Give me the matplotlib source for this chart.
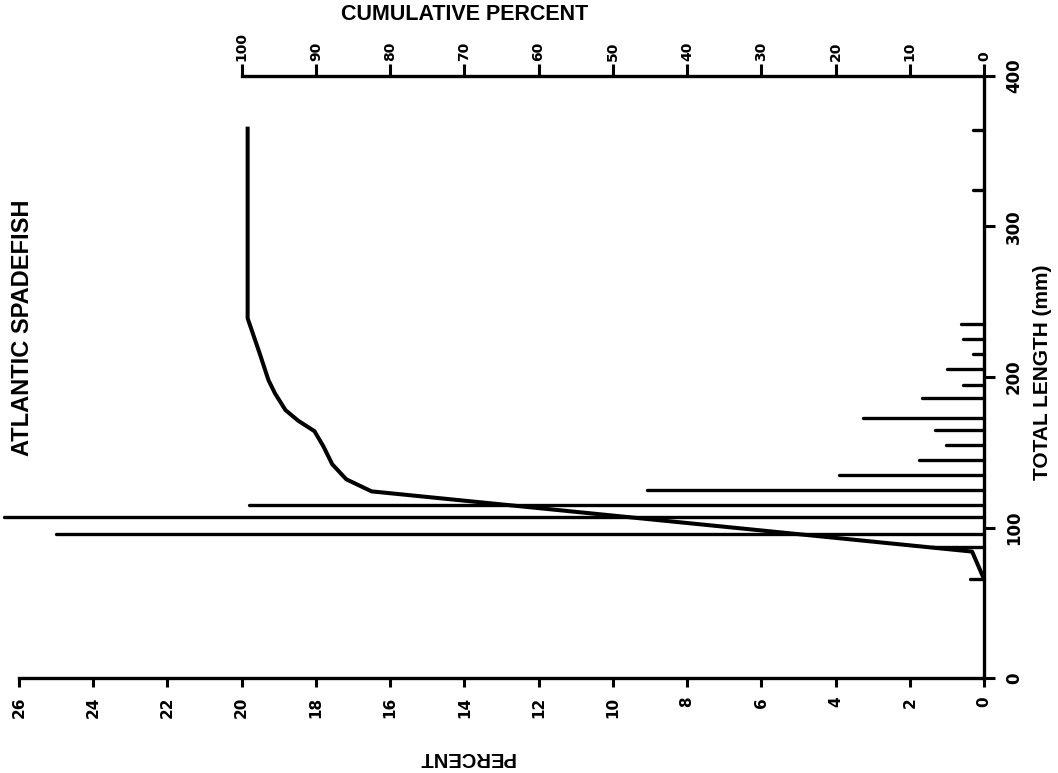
import matplotlib
matplotlib.use("Agg")
import matplotlib.pyplot as plt

# Length-frequency data (total length in mm, percent of catch)
length_mm = [66, 87, 96, 107, 115, 125, 135, 145, 155, 165, 173, 186, 195, 205, 215, 225, 235, 324, 364]
percent = [0.38, 1.41, 25.0, 26.4, 19.8, 9.07, 3.9, 1.75, 1.03, 1.32, 3.25, 1.68, 0.56, 0.99, 0.30, 0.56, 0.62, 0.30, 0.30]

# Cumulative percent curve
cum_length = [68, 84, 124, 132, 142, 154, 164, 171, 178, 189, 198, 216, 239, 365]
cum_percent = [0.2, 1.6, 82.5, 85.9, 87.8, 89.0, 90.2, 92.4, 94.1, 95.5, 96.4, 97.6, 99.2, 99.2]

length_ticks = [0, 100, 200, 300, 400]
percent_ticks = [0, 2, 4, 6, 8, 10, 12, 14, 16, 18, 20, 22, 24, 26]
cum_ticks = [0, 10, 20, 30, 40, 50, 60, 70, 80, 90, 100]

W, H = 1058, 773
fig = plt.figure(figsize=(W / 100, H / 100), dpi=100)
ax = fig.add_axes([19 / W, 95 / H, 965 / W, 602 / H])

# bars drawn as horizontal lines from the right-hand axis
ax.hlines(length_mm, 0, percent, colors="black", linewidth=2.4, capstyle="round", clip_on=False)

ax.set_xlim(26, 0)
ax.set_ylim(0, 400)
ax.spines["left"].set_visible(False)
ax.spines["top"].set_visible(False)
ax.spines["bottom"].set_bounds(0, 26)
ax.spines["bottom"].set_linewidth(2.4)
ax.spines["right"].set_linewidth(2.4)

ax.set_xticks(percent_ticks)
ax.set_xticklabels([str(t) for t in percent_ticks], rotation=90,
                   fontsize=11, fontweight="bold", family="DejaVu Sans")
ax.tick_params(axis="x", direction="out", length=6.5, width=2.2, pad=7)

ax.yaxis.tick_right()
ax.set_yticks(length_ticks)
ax.set_yticklabels([str(t) for t in length_ticks], rotation=90, va="center",
                   fontsize=12, fontweight="bold", family="DejaVu Sans")
ax.tick_params(axis="y", direction="out", length=8, width=2.2, pad=7)

# cumulative percent on a twin axis (100 % lines up with 20 %)
ax2 = ax.twiny()
ax2.set_xlim(130, 0)
ax2.set_ylim(0, 400)
ax2.plot(cum_percent, cum_length, color="black", linewidth=2.9, clip_on=False,
         solid_joinstyle="round")
for s in ["left", "right", "bottom"]:
    ax2.spines[s].set_visible(False)
ax2.spines["top"].set_bounds(0, 100)
ax2.spines["top"].set_linewidth(2.4)
ax2.set_xticks(cum_ticks)
ax2.set_xticklabels([str(t) for t in cum_ticks], rotation=90, ha="center",
                    fontsize=10, fontweight="bold", family="DejaVu Sans")
ax2.tick_params(axis="x", direction="out", length=9, width=2.2, pad=2)

# titles
fig.text(465 / W, 1 - 14.5 / H, "CUMULATIVE PERCENT", ha="center", va="center",
         fontsize=15.5, fontweight="bold", family="Liberation Sans")
fig.text(466 / W, 1 - 758 / H, "PERCENT", ha="center", va="center", rotation=180,
         fontsize=14.5, fontweight="bold", family="Liberation Sans")
fig.text(23 / W, 1 - 328 / H, "ATLANTIC SPADEFISH", ha="center", va="center", rotation=90,
         fontsize=17, fontweight="bold", family="Liberation Sans")
fig.text(1043 / W, 1 - 372 / H, "TOTAL LENGTH (mm)", ha="center", va="center", rotation=90,
         fontsize=15, fontweight="bold", family="Liberation Sans")

fig.savefig("out.png", dpi=100)
